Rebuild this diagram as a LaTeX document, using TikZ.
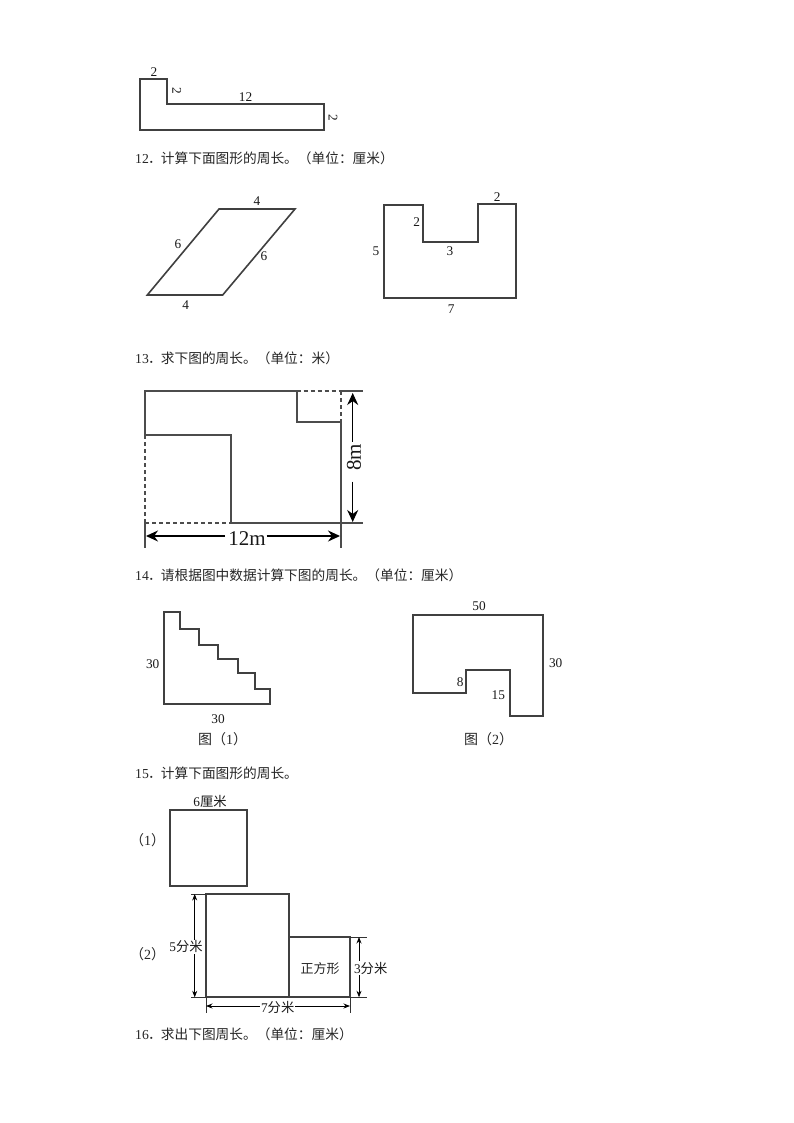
\documentclass[tikz,border=0pt]{standalone}
\usepackage{fontspec}
\setmainfont{Liberation Serif}
\newfontfamily\cjk{Noto Sans CJK SC}
\usetikzlibrary{arrows.meta}
\newcommand{\heading}[4]{\node[headtext] (#1) at (135,#2) {#3\makebox[12pt][c]{\cjk ．}\cjk #4};}
\tikzset{
  x=1pt,y=-1pt,
  fig/.style={draw=black!75,line width=2pt,line join=miter},
  headtext/.style={anchor=base west,inner sep=0pt,font=\fontsize{13.7}{14}\selectfont,text=black!85},
  lab/.style={inner sep=0pt,font=\fontsize{13.3}{14}\selectfont,text=black!90},
  captext/.style={inner sep=0pt,font=\fontsize{14}{14}\selectfont\cjk,text=black!85},
  dimlab/.style={inner sep=1pt,fill=white,font=\fontsize{13.3}{14}\selectfont,text=black!90},
  big/.style={inner sep=0pt,font=\fontsize{21}{21}\selectfont,text=black!90},
  bigline/.style={draw=black!70,line width=2pt},
  bigdash/.style={draw=black!70,line width=2pt,dash pattern=on 4pt off 3pt},
  bigarrow/.style={draw=black,line width=1.3pt,-{Stealth[length=12pt,width=11pt]}},
  dim/.style={draw=black,line width=.8pt,{Stealth[length=6.5pt,width=5pt]}-{Stealth[length=6.5pt,width=5pt]}},
  ext/.style={draw=black!80,line width=.7pt},
}
\begin{document}
\begin{tikzpicture}
\useasboundingbox[fill=white] (0,0) rectangle (794,1123);

% figure above 12
\draw[fig] (140,79.5) -- (167,79.5) -- (167,104.5) -- (324,104.5) -- (324,130) -- (140,130) -- cycle;
\node[lab] (a1) at (154,72) {2};
\node[lab,rotate=-90] (a2) at (176.7,91) {2};
\node[lab] (a3) at (245.5,97) {12};
\node[lab,rotate=-90] (a4) at (333,118) {2};
\heading{h12}{164}{12}{计算下面图形的周长。（单位：厘米）}

% parallelogram
\draw[fig,line width=1.6pt] (219,209) -- (295,209) -- (222.7,295) -- (147.3,295) -- cycle;
\node[lab] (b1) at (257,201.5) {4};
\node[lab] (b2) at (178,244.3) {6};
\node[lab] (b3) at (264,256.3) {6};
\node[lab] (b4) at (185.7,305.3) {4};

% U shape
\draw[fig] (384.3,205) -- (422.7,205) -- (422.7,241.7) -- (477.7,241.7) -- (477.7,204) -- (516.3,204) -- (516.3,298.3) -- (384.3,298.3) -- cycle;
\node[lab] (c1) at (497.3,196.7) {2};
\node[lab] (c2) at (416.7,222.3) {2};
\node[lab] (c3) at (376,251) {5};
\node[lab] (c4) at (450,251.3) {3};
\node[lab] (c5) at (451.3,309) {7};
\heading{h13}{363}{13}{求下图的周长。（单位：米）}

% figure 13
\draw[bigline] (145,435) -- (145,391) -- (296.7,391) -- (296.7,421.7) -- (340.7,421.7) -- (340.7,547.7);
\draw[bigline] (340.7,391) -- (363.3,391);
\draw[bigline] (145,435) -- (231,435) -- (231,523.3) -- (363.3,523.3);
\draw[bigline] (145,523.3) -- (145,547.7);
\draw[bigdash] (296.7,391) -- (340.7,391);
\draw[bigdash] (340.7,391) -- (340.7,421.7);
\draw[bigdash] (145,435) -- (145,523.3);
\draw[bigdash] (145,523.3) -- (231,523.3);
\node[big,rotate=90] (m8) at (354,457.5) {8m};
\node[big] (m12) at (247,539) {12m};
\coordinate (up) at (352.7,393);
\coordinate (dn) at (352.7,522);
\coordinate (lf) at (146,536);
\coordinate (rt) at (340,536);
\coordinate (upa) at (352.7,441.7);
\coordinate (dna) at (352.7,481.7);
\coordinate (lfa) at (225,536);
\coordinate (rta) at (266.7,536);
\draw[bigarrow] (upa) -- (up);
\draw[bigarrow] (dna) -- (dn);
\draw[bigarrow] (lfa) -- (lf);
\draw[bigarrow] (rta) -- (rt);
\heading{h14}{580}{14}{请根据图中数据计算下图的周长。（单位：厘米）}

% stairs
\draw[fig] (164.3,612) -- (180.3,612) -- (180.3,629.3) -- (198.7,629.3) -- (198.7,644.7) -- (217.7,644.7) -- (217.7,659.3) -- (238,659.3) -- (238,673.3) -- (255,673.3) -- (255,689) -- (269.7,689) -- (269.7,703.7) -- (164.3,703.7) -- cycle;
\node[lab] (d1) at (152.7,664) {30};
\node[lab] (d2) at (218,719) {30};
\node[captext,anchor=west] (d3) at (198,739) {图（{\rmfamily 1}）};

% figure 14(2)
\draw[fig] (412.7,614.7) -- (542.7,614.7) -- (542.7,715.7) -- (510,715.7) -- (510,670.3) -- (466,670.3) -- (466,693) -- (412.7,693) -- cycle;
\node[lab] (e1) at (479,606) {50};
\node[lab] (e2) at (555.7,663) {30};
\node[lab] (e3) at (460.3,681.7) {8};
\node[lab] (e4) at (498.3,695) {15};
\node[captext,anchor=west] (e5) at (464,739) {图（{\rmfamily 2}）};
\heading{h15}{778}{15}{计算下面图形的周长。}

% figure 15
\draw[fig] (170.3,809.7) rectangle (247,886);
\node[lab] (f1) at (210,801) {6{\cjk 厘米}};
\node[captext,anchor=west] (f2) at (130,840) {（{\rmfamily 1}）};
\node[captext,anchor=west] (f3) at (130,954.3) {（{\rmfamily 2}）};
\draw[fig] (206,997.3) -- (206,894) -- (289,894) -- (289,997.3) -- cycle;
\draw[fig] (289,937) -- (350,937) -- (350,997.3) -- (289,997.3);
\node[captext,font=\fontsize{13}{14}\selectfont\cjk] (f4) at (320,968.3) {正方形};
\draw[ext] (191,894) -- (206,894);
\draw[ext] (191,997.3) -- (206,997.3);
\draw[ext] (350,937) -- (366.7,937);
\draw[ext] (350,997.3) -- (366.7,997.3);
\draw[ext] (206,997.3) -- (206,1012.7);
\draw[ext] (350,997.3) -- (350,1012.7);
\coordinate (g1) at (194.7,894);
\coordinate (g2) at (194.7,997.3);
\coordinate (g3) at (359,937);
\coordinate (g4) at (359,997.3);
\coordinate (g5) at (206,1006);
\coordinate (g6) at (350,1006);
\draw[dim] (g1) -- (g2);
\draw[dim] (g3) -- (g4);
\draw[dim] (g5) -- (g6);
\node[dimlab] (f5) at (186,946.7) {5{\cjk 分米}};
\node[dimlab] (f6) at (370.7,968.3) {3{\cjk 分米}};
\node[dimlab] (f7) at (277.7,1007) {7{\cjk 分米}};
\heading{h16}{1039}{16}{求出下图周长。（单位：厘米）}
\end{tikzpicture}
\end{document}
